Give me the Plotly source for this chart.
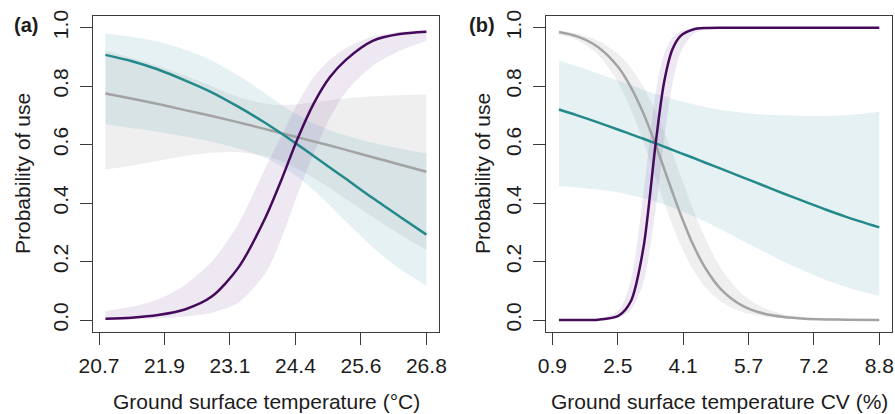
import plotly.graph_objects as go

# ---------------- data: panel (a) ----------------
temp_x = [20.82, 21.3, 21.8, 22.3, 22.8, 23.3, 23.8, 24.1, 24.4, 24.7, 25.0, 25.3, 25.8, 26.3, 26.8]
a_purple = [0.004, 0.008, 0.017, 0.036, 0.08, 0.18, 0.35, 0.48, 0.62, 0.74, 0.83, 0.89, 0.955, 0.978, 0.986]
a_purple_lo = [0.0, 0.002, 0.005, 0.012, 0.025, 0.06, 0.16, 0.28, 0.43, 0.57, 0.69, 0.78, 0.87, 0.92, 0.955]
a_purple_hi = [0.03, 0.045, 0.07, 0.12, 0.2, 0.33, 0.52, 0.63, 0.74, 0.83, 0.89, 0.93, 0.97, 0.985, 0.992]
a_teal = [0.907, 0.886, 0.857, 0.82, 0.779, 0.729, 0.674, 0.638, 0.6, 0.561, 0.522, 0.483, 0.417, 0.354, 0.292]
a_teal_lo = [0.67, 0.657, 0.644, 0.628, 0.61, 0.587, 0.554, 0.526, 0.49, 0.444, 0.392, 0.337, 0.249, 0.175, 0.117]
a_teal_hi = [0.98, 0.969, 0.952, 0.925, 0.888, 0.836, 0.775, 0.737, 0.701, 0.672, 0.649, 0.631, 0.606, 0.587, 0.57]
a_grey = [0.775, 0.758, 0.739, 0.718, 0.698, 0.676, 0.653, 0.639, 0.625, 0.611, 0.597, 0.582, 0.557, 0.532, 0.507]
a_grey_lo = [0.515, 0.528, 0.545, 0.561, 0.572, 0.574, 0.561, 0.543, 0.517, 0.486, 0.451, 0.414, 0.352, 0.293, 0.239]
a_grey_hi = [0.922, 0.897, 0.869, 0.836, 0.8, 0.763, 0.74, 0.735, 0.738, 0.745, 0.752, 0.758, 0.765, 0.769, 0.771]
a_tickvals = [20.7, 21.92, 23.14, 24.36, 25.58, 26.8]
a_ticktext = ["20.7", "21.9", "23.1", "24.4", "25.6", "26.8"]

# ---------------- data: panel (b) ----------------
cv_x = [1.06, 1.5, 2.0, 2.5, 2.8, 3.1, 3.4, 3.6, 3.8, 4.0, 4.3, 4.6, 5.0, 5.5, 6.0, 6.5, 7.0, 7.5, 8.0, 8.8]
b_purple = [0.0, 0.0001, 0.001, 0.0145, 0.065, 0.246, 0.608, 0.813, 0.925, 0.972, 0.994, 0.999,
            1.0, 1.0, 1.0, 1.0, 1.0, 1.0, 1.0, 1.0]
b_purple_lo = [0.0, 0.0, 0.0008, 0.0083, 0.034, 0.128, 0.382, 0.616, 0.807, 0.915, 0.978, 0.995,
               0.999, 1.0, 1.0, 1.0, 1.0, 1.0, 1.0, 1.0]
b_purple_hi = [0.0, 0.0002, 0.0025, 0.033, 0.138, 0.43, 0.78, 0.909, 0.966, 0.988, 0.997, 1.0,
               1.0, 1.0, 1.0, 1.0, 1.0, 1.0, 1.0, 1.0]
b_grey = [0.985, 0.970, 0.934, 0.864, 0.796, 0.707, 0.598, 0.518, 0.438, 0.361, 0.258, 0.177,
          0.101, 0.048, 0.022, 0.010, 0.0045, 0.002, 0.0009, 0.0002]
b_grey_hi = [0.989, 0.979, 0.956, 0.909, 0.863, 0.798, 0.712, 0.645, 0.571, 0.494, 0.38, 0.278,
             0.171, 0.087, 0.042, 0.0196, 0.0092, 0.0042, 0.002, 0.0006]
b_grey_lo = [0.975, 0.958, 0.908, 0.81, 0.72, 0.609, 0.485, 0.402, 0.325, 0.256, 0.172, 0.112,
             0.06, 0.027, 0.012, 0.005, 0.002, 0.001, 0.0004, 0.0001]
b_teal = [0.72, 0.7, 0.676, 0.651, 0.635, 0.62, 0.604, 0.593, 0.582, 0.571, 0.555, 0.538,
          0.516, 0.488, 0.46, 0.432, 0.405, 0.378, 0.353, 0.317]
b_teal_hi = [0.887, 0.868, 0.843, 0.818, 0.803, 0.788, 0.774, 0.765, 0.756, 0.748, 0.738, 0.729,
             0.718, 0.709, 0.703, 0.7, 0.698, 0.698, 0.7, 0.712]
b_teal_lo = [0.458, 0.453, 0.446, 0.436, 0.427, 0.417, 0.404, 0.395, 0.385, 0.374, 0.356, 0.336,
             0.308, 0.271, 0.235, 0.199, 0.167, 0.138, 0.113, 0.082]
b_tickvals = [0.9, 2.48, 4.06, 5.64, 7.22, 8.8]
b_ticktext = ["0.9", "2.5", "4.1", "5.7", "7.2", "8.8"]

y_tickvals = [0.0, 0.2, 0.4, 0.6, 0.8, 1.0]
y_ticktext = ["0.0", "0.2", "0.4", "0.6", "0.8", "1.0"]

# ---------------- styles ----------------
PURPLE = "#450a5c"
TEAL = "#23898a"
GREY = "#a3a3a3"
PURPLE_BAND = "rgba(120,80,160,0.13)"
TEAL_BAND = "rgba(90,160,180,0.15)"
GREY_BAND = "rgba(140,140,140,0.14)"
FONT = "Liberation Sans, Arial, sans-serif"
TXT = "#1c1c1c"
AX = "#3c3c3c"

fig = go.Figure()


def band(x, lo, hi, color, xa, ya):
    fig.add_trace(go.Scatter(
        x=x, y=lo, mode="lines", line=dict(width=0, shape="spline", smoothing=0.8),
        hoverinfo="skip", showlegend=False, xaxis=xa, yaxis=ya))
    fig.add_trace(go.Scatter(
        x=x, y=hi, mode="lines", line=dict(width=0, shape="spline", smoothing=0.8),
        fill="tonexty", fillcolor=color,
        hoverinfo="skip", showlegend=False, xaxis=xa, yaxis=ya))


def line(x, y, color, xa, ya):
    fig.add_trace(go.Scatter(
        x=x, y=y, mode="lines", line=dict(color=color, width=2.5, shape="spline", smoothing=0.8),
        showlegend=False, xaxis=xa, yaxis=ya))


# panel (a)
band(temp_x, a_grey_lo, a_grey_hi, GREY_BAND, "x", "y")
band(temp_x, a_teal_lo, a_teal_hi, TEAL_BAND, "x", "y")
band(temp_x, a_purple_lo, a_purple_hi, PURPLE_BAND, "x", "y")
line(temp_x, a_grey, GREY, "x", "y")
line(temp_x, a_teal, TEAL, "x", "y")
line(temp_x, a_purple, PURPLE, "x", "y")

# panel (b)
band(cv_x, b_grey_lo, b_grey_hi, GREY_BAND, "x2", "y2")
band(cv_x, b_teal_lo, b_teal_hi, TEAL_BAND, "x2", "y2")
band(cv_x, b_purple_lo, b_purple_hi, PURPLE_BAND, "x2", "y2")
line(cv_x, b_grey, GREY, "x2", "y2")
line(cv_x, b_teal, TEAL, "x2", "y2")
line(cv_x, b_purple, PURPLE, "x2", "y2")

Y_DOM = [0.1988, 0.9614]
common_x = dict(showline=True, mirror=True, linecolor=AX, linewidth=1.3, ticks="outside",
                ticklen=12, tickwidth=1.3, tickcolor=AX, showgrid=False, zeroline=False,
                automargin=False,
                tickfont=dict(family=FONT, size=21, color=TXT), ticklabelstandoff=3)
common_y = dict(common_x, tickvals=y_tickvals, ticktext=y_ticktext, range=[-0.04, 1.04],
                domain=Y_DOM, tickangle=-90)

fig.update_layout(
    template="none",
    width=895, height=414, margin=dict(l=0, r=0, t=0, b=0, autoexpand=False),
    paper_bgcolor="white", plot_bgcolor="white",
    xaxis=dict(common_x, domain=[0.1036, 0.4908], range=[20.583, 27.04],
               tickvals=a_tickvals, ticktext=a_ticktext, anchor="y"),
    yaxis=dict(common_y, anchor="x"),
    xaxis2=dict(common_x, domain=[0.6101, 0.9972], range=[0.748, 9.119],
                tickvals=b_tickvals, ticktext=b_ticktext, anchor="y2"),
    yaxis2=dict(common_y, anchor="x2"),
)

ann_font = dict(family=FONT, size=21, color=TXT)
annotations = [
    dict(text="Ground surface temperature (°C)", x=266 / 895, y=(414 - 401) / 414),
    dict(text="Ground surface temperature CV (%)", x=719.5 / 895, y=(414 - 401) / 414),
    dict(text="Probability of use", x=22 / 895, y=(414 - 174) / 414, textangle=-90),
    dict(text="Probability of use", x=482 / 895, y=(414 - 174) / 414, textangle=-90),
]
for a in annotations:
    fig.add_annotation(xref="paper", yref="paper", showarrow=False, xanchor="center",
                       yanchor="middle", font=ann_font, **a)
fig.add_annotation(text="<b>(a)</b>", x=25.5 / 895, y=(414 - 24.5) / 414, xref="paper", yref="paper",
                   showarrow=False, xanchor="center", yanchor="middle",
                   font=dict(family=FONT, size=20, color=TXT))
fig.add_annotation(text="<b>(b)</b>", x=482 / 895, y=(414 - 24.5) / 414, xref="paper", yref="paper",
                   showarrow=False, xanchor="center", yanchor="middle",
                   font=dict(family=FONT, size=20, color=TXT))

fig.write_html("out.html", config={"displayModeBar": False},
               post_script="document.body.style.margin='0';")
